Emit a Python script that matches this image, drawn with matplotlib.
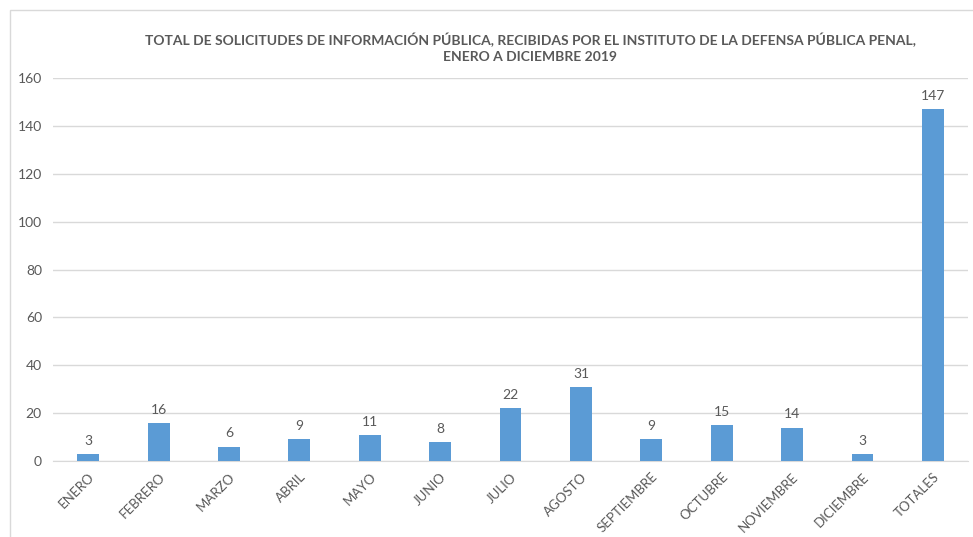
import numpy as np
import matplotlib
matplotlib.use("Agg")
import matplotlib.pyplot as plt
from matplotlib.patches import Rectangle

months = ['ENERO', 'FEBRERO', 'MARZO', 'ABRIL', 'MAYO', 'JUNIO', 'JULIO',
          'AGOSTO', 'SEPTIEMBRE', 'OCTUBRE', 'NOVIEMBRE', 'DICIEMBRE', 'TOTALES']
requests = [3, 16, 6, 9, 11, 8, 22, 31, 9, 15, 14, 3, 147]
yticks = [0, 20, 40, 60, 80, 100, 120, 140, 160]

title = ('TOTAL DE SOLICITUDES DE INFORMACIÓN PÚBLICA, RECIBIDAS POR EL INSTITUTO DE LA DEFENSA PÚBLICA PENAL,\n'
         'ENERO A DICIEMBRE 2019')

plt.rcParams['font.family'] = ['Lato', 'DejaVu Sans']
txt = '#595959'
grid = '#D9D9D9'

fig = plt.figure(figsize=(9.73, 5.37), dpi=100)
fig.patches.append(Rectangle((10/973, -0.1), 1.2, 1 - 10/537 + 0.1, transform=fig.transFigure,
                             fill=False, edgecolor=grid, linewidth=1))
ax = fig.add_axes([0.0545, 0.1415, 0.9405, 0.7132])

x = np.arange(len(months))
bars = ax.bar(x, requests, width=0.31, color='#5B9BD5', zorder=3)
for xi, v in zip(x, requests):
    ax.text(xi, v + 3, str(v), ha='center', va='bottom', fontsize=10, color=txt)

ax.set_xlim(-0.5, len(months) - 0.5)
ax.set_ylim(0, 160)
ax.set_yticks(yticks)
ax.set_xticks(x)
ax.set_xticklabels(months, rotation=45, ha='right', rotation_mode='anchor', fontsize=9.5, color=txt)
ax.tick_params(axis='y', labelsize=10, labelcolor=txt, length=0, pad=8)
ax.tick_params(axis='x', length=0, pad=7)
ax.yaxis.grid(True, color=grid, linewidth=1, zorder=0)
for s in ['top', 'right', 'left']:
    ax.spines[s].set_visible(False)
ax.spines['bottom'].set_color(grid)

fig.text(0.545, 0.94, title, ha='center', va='top', fontsize=10, fontweight='bold',
         color=txt, linespacing=1.45)

fig.savefig('out.png', dpi=100)
